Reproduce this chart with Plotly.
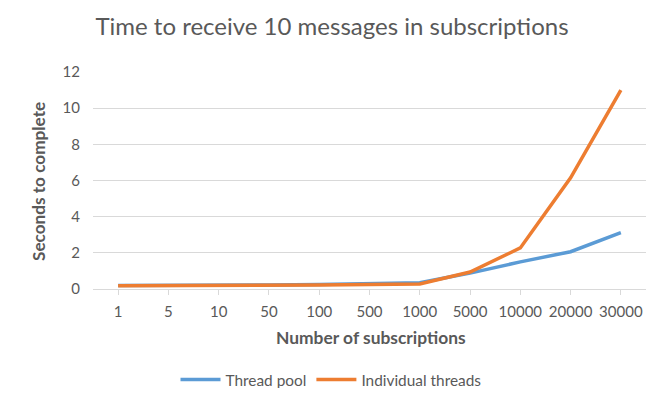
import plotly.graph_objects as go

categories = ["1", "5", "10", "50", "100", "500", "1000", "5000", "10000", "20000", "30000"]
thread_pool = [0.2, 0.2, 0.2, 0.22, 0.25, 0.32, 0.35, 0.88, 1.5, 2.06, 3.12]
individual_threads = [0.18, 0.18, 0.19, 0.2, 0.22, 0.25, 0.28, 0.94, 2.27, 6.15, 11.0]
y_ticks = [0, 2, 4, 6, 8, 10, 12]

FONT = "Lato, Carlito, Calibri, sans-serif"
GRAY = "#595959"

# The page body has an 8px margin, so the figure is 16px smaller than the window
W, H = 648, 380
OFF = 8

fig = go.Figure()
fig.add_trace(go.Scatter(x=categories, y=thread_pool, mode="lines", name="Thread pool",
                         line=dict(color="#5B9BD5", width=3.5)))
fig.add_trace(go.Scatter(x=categories, y=individual_threads, mode="lines", name="Individual threads",
                         line=dict(color="#ED7D31", width=3.5)))

left, right, top, bottom = 93 - OFF, 646 - OFF, 72 - OFF, 289 - OFF
pw, ph = right - left, bottom - top

fig.update_layout(
    width=W, height=H,
    margin=dict(l=left, r=W - right, t=top, b=H - bottom, autoexpand=False),
    paper_bgcolor="white", plot_bgcolor="white",
    font=dict(family=FONT, color=GRAY, size=15),
    title=dict(text="Time to receive 10 messages in subscriptions", x=0.5, xanchor="center",
               xref="container", y=1 - (27 - OFF) / H, yref="container", yanchor="middle",
               font=dict(size=24, color=GRAY, family=FONT)),
    showlegend=True,
    legend=dict(orientation="h", x=(331 - OFF) / W, xanchor="center", xref="container",
                y=(H - (380 - OFF)) / H, yanchor="middle", yref="container",
                font=dict(size=15.4, color=GRAY), itemwidth=40, traceorder="normal"),
    xaxis=dict(type="category", showgrid=False, showline=True, linecolor="#d9d9d9", linewidth=1,
               ticks="outside", tickcolor="#d9d9d9", ticklen=5, ticklabelstandoff=4,
               tickfont=dict(size=15, color=GRAY), automargin=False,
               range=[-0.5, 10.5], zeroline=False),
    yaxis=dict(range=[0, 12], tickvals=y_ticks, showgrid=True, gridcolor="#d9d9d9", gridwidth=1,
               zeroline=False, showline=False, ticks="", ticklabelstandoff=12, automargin=False,
               tickfont=dict(size=15, color=GRAY)),
    annotations=[
        dict(text="<b>Number of subscriptions</b>", xref="paper", yref="paper",
             x=(371 - 93) / pw, y=-(337 - 289) / ph,
             xanchor="center", yanchor="middle", showarrow=False, font=dict(size=17.4, color=GRAY)),
        dict(text="<b>Seconds to complete</b>", xref="paper", yref="paper",
             x=-(93 - 38) / pw, y=(289 - 182) / ph,
             xanchor="center", yanchor="middle", textangle=-90, showarrow=False,
             font=dict(size=17.2, color=GRAY)),
    ],
)

fig.write_html("out.html")
